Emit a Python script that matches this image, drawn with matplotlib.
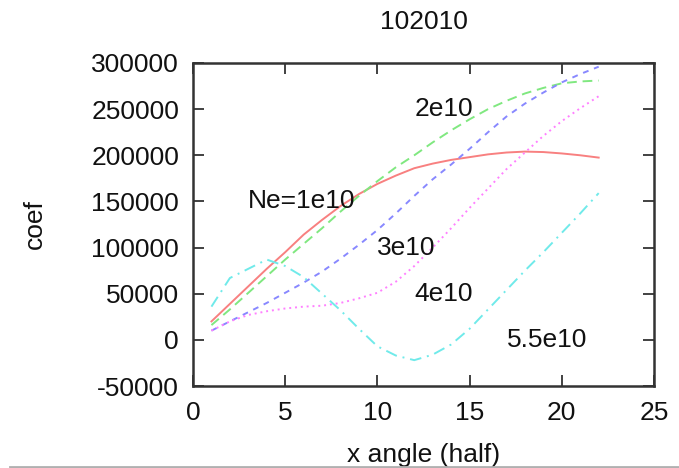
import matplotlib
matplotlib.use("Agg")
import matplotlib.pyplot as plt
from matplotlib.lines import Line2D

plt.rcParams['font.family'] = ['Liberation Sans', 'DejaVu Sans']

x = list(range(1, 23))
ne1e10 = [20000, 39000, 58000, 77000, 95000, 114000, 130000, 145000, 158000, 169000, 178000,
          186000, 191000, 195000, 198000, 201000, 203000, 204000, 203500, 202000, 200000, 197500]
ne2e10 = [16000, 33000, 51000, 69000, 87000, 104000, 121000, 139000, 156000, 172000, 187000,
          200000, 214000, 227000, 239000, 250000, 259000, 267000, 273000, 278000, 280000, 281000]
ne3e10 = [10000, 20000, 30000, 40000, 51000, 62000, 74000, 88000, 103000, 119000, 137000,
          156000, 174000, 190000, 207000, 225000, 242000, 256000, 268000, 279000, 288000, 296000]
ne4e10 = [10000, 20000, 27000, 31000, 34000, 36000, 37000, 40000, 45000, 51000, 63000,
          80000, 100000, 121000, 143000, 164000, 185000, 203000, 221000, 237000, 251000, 264000]
ne55e10 = [36000, 67000, 77000, 87000, 80000, 68000, 50000, 32000, 12000, -7000, -17000,
           -22000, -16000, -5000, 12000, 33000, 54000, 75000, 95000, 116000, 137000, 159000]

labels = ["Ne=1e10", "2e10", "3e10", "4e10", "5.5e10"]
label_x = [3, 12, 10, 12, 17]
label_y = [150000, 250000, 100000, 50000, 0]

xticks = [0, 5, 10, 15, 20, 25]
yticks = [-50000, 0, 50000, 100000, 150000, 200000, 250000, 300000]

fig = plt.figure(figsize=(6.79, 4.68), dpi=100)
ax = fig.add_axes([193/679, 1-386/468, 461/679, 323/468])

fs = 19
lw = 1.4
ax.plot(x, ne1e10, color='#f88080', lw=lw, ls='-')
ax.plot(x, ne2e10, color='#80e880', lw=lw, ls=(0, (5, 3)))
ax.plot(x, ne3e10, color='#8888ff', lw=lw, ls=(0, (3, 3)))
ax.plot(x, ne4e10, color='#ff80ff', lw=lw, ls=(0, (1, 2)))
ax.plot(x, ne55e10, color='#70eaea', lw=lw, ls=(0, (6, 3, 1, 3)))

for t, lx, ly in zip(labels, label_x, label_y):
    ax.text(lx, ly, t, fontsize=fs, ha='left', va='center', color='#111111')

ax.set_xlim(0, 25)
ax.set_ylim(-50000, 300000)
ax.set_xticks(xticks)
ax.set_yticks(yticks)
ax.set_xticklabels([str(v) for v in xticks])
ax.set_yticklabels([str(v) for v in yticks])
ax.tick_params(direction='in', length=8, width=1.3, colors='#333333', labelcolor='#111111',
               labelsize=fs, top=True, right=True)
ax.tick_params(axis='x', pad=11)
ax.tick_params(axis='y', pad=10)
for s in ax.spines.values():
    s.set_linewidth(1.8)
    s.set_color('#333333')

ax.set_ylabel('coef', fontsize=fs, color='#111111')
ax.yaxis.label.set_va('center')
ax.yaxis.set_label_coords(-0.343, 0.5)
ax.set_xlabel('x angle (half)', fontsize=fs, color='#111111')
ax.xaxis.label.set_va('center')
ax.xaxis.set_label_coords(0.5, -69/323)
ax.text(0.5, 1 + 41/323, '102010', transform=ax.transAxes, fontsize=fs,
        ha='center', va='center', color='#111111')

fig.add_artist(Line2D([10/679, 1], [1.5/468, 1.5/468], transform=fig.transFigure,
                      color='#b0b0b0', lw=2))

fig.savefig('out.png', dpi=100)
